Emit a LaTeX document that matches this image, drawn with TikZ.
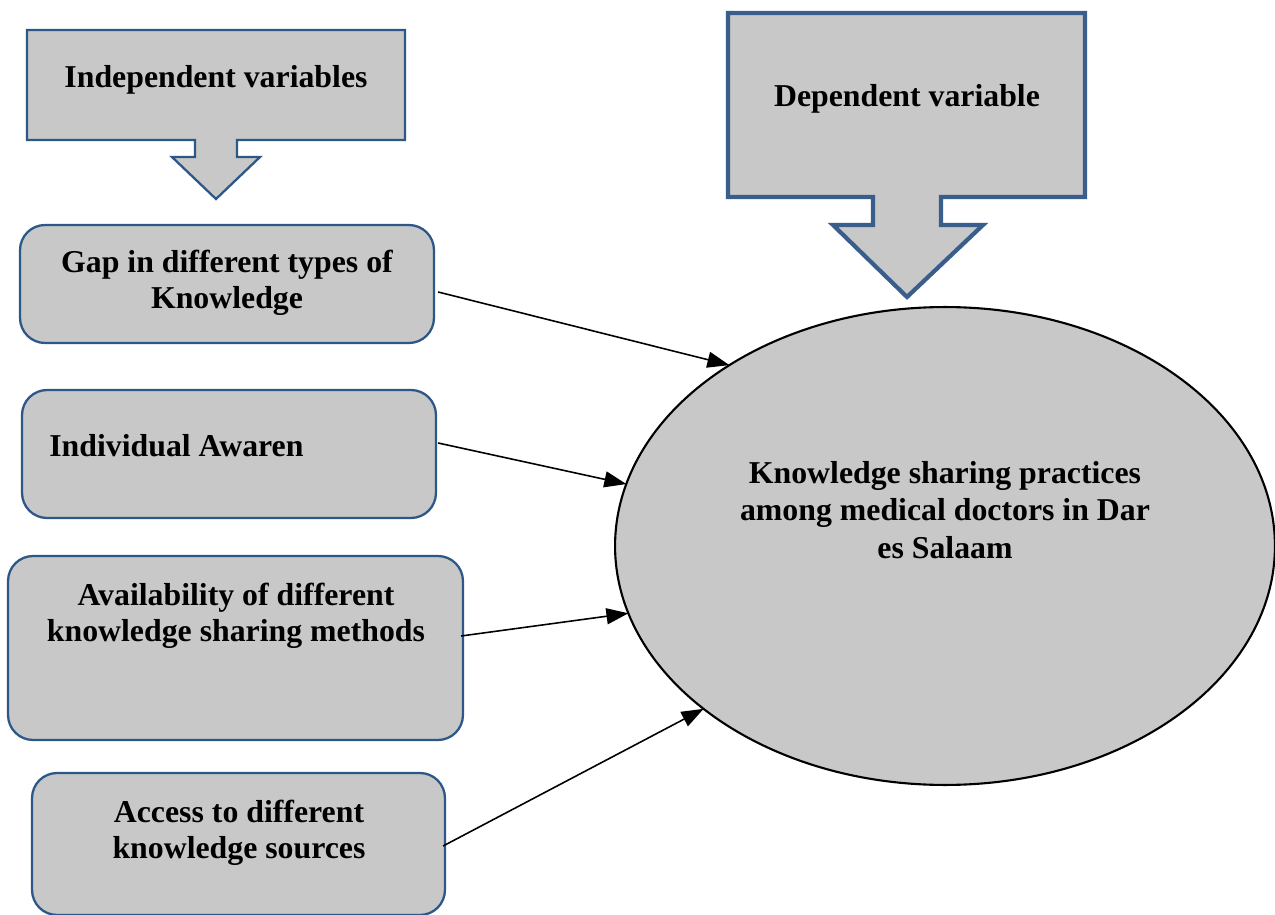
\documentclass[tikz,border=0pt]{standalone}
\usepackage{fontspec}
\setmainfont{Liberation Serif}
\usetikzlibrary{calc,arrows.meta,shapes.geometric}
\definecolor{boxblue}{RGB}{44,87,135}
\definecolor{depblue}{RGB}{58,94,140}
\definecolor{boxfill}{RGB}{200,200,200}
\tikzset{
  lbl/.style={font=\fontsize{18.1pt}{20.8pt}\selectfont\bfseries, align=center, inner sep=0pt},
  varbox/.style={draw=boxblue, line width=1.3pt, fill=boxfill, rounded corners=0.5cm, inner sep=0pt},
  callout/.style={draw=boxblue, line width=1.3pt, fill=boxfill},
  arr/.style={draw=black, line width=0.9pt, -{Triangle[length=0.44cm,width=0.32cm]}}
}
\begin{document}
\begin{tikzpicture}[x=0.02cm,y=-0.02cm]
\useasboundingbox (0,0) rectangle (1275,915);
\clip (0,0) rectangle (1275,915);
% callouts
\draw[callout] (27,30) -- (405,30) -- (405,140) -- (237,140) -- (237,157) -- (260,157) -- (216,199) -- (172,157) -- (195,157) -- (195,140) -- (27,140) -- cycle;
\node[lbl] (indep) at (216,80) {Independent variables};
\draw[callout, draw=depblue, line width=2.4pt] (728,13) -- (1085,13) -- (1085,197) -- (941,197) -- (941,225) -- (983,225) -- (907,297) -- (833,225) -- (873,225) -- (873,197) -- (728,197) -- cycle;
\node[lbl] (dep) at (907,99) {Dependent variable};
% boxes
\node[varbox, minimum width=8.28cm, minimum height=2.36cm] (b1) at (227,284) {};
\node[lbl] (t1) at (227,283) {Gap in different types of\\Knowledge};
\node[varbox, minimum width=8.28cm, minimum height=2.56cm] (b2) at (229,454) {};
\node[lbl, anchor=west] (t2) at (49,446) {Individual Awaren};
\node[varbox, minimum width=9.1cm, minimum height=3.68cm] (b3) at (235.5,648) {};
\node[lbl] (t3) at (236,616) {Availability of different\\knowledge sharing methods};
\node[varbox, minimum width=8.26cm, minimum height=2.84cm] (b4) at (238.5,844) {};
\node[lbl] (t4) at (239,833) {Access to different\\knowledge sources};
% ellipse
\node[ellipse, draw=black, line width=1.2pt, fill=boxfill, minimum width=13.2cm, minimum height=9.56cm, inner sep=0pt, outer sep=0pt] (ell) at (945,546) {};
\node[lbl, font=\fontsize{18.1pt}{21.4pt}\selectfont\bfseries] (te) at (945,510) {Knowledge sharing practices\\among medical doctors in Dar\\es Salaam};
% arrows
\draw[arr] ($(b1.east)+(3,8)$) -- (ell.140.4);
\draw[arr] ($(b2.east)+(1,-11)$) -- (ell.169.7);
\draw[arr] ($(b3.east)+(-3,-12)$) -- (ell.192.6);
\draw[arr] ($(b4.east)+(-3,2)$) -- (ell.214.6);
\end{tikzpicture}
\end{document}
